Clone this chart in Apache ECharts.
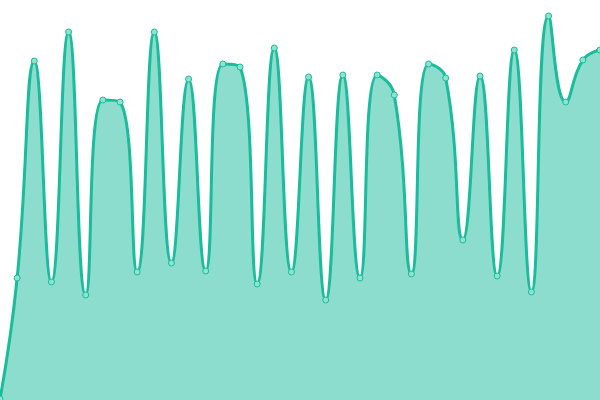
<!DOCTYPE html>
<html>
<head>
<meta charset="utf-8">
<script src="https://cdn.jsdelivr.net/npm/echarts@6/dist/echarts.min.js"></script>
<style>html,body{margin:0;padding:0;background:#fff}#c{width:600px;height:400px}</style>
</head>
<body>
<div id="c"></div>
<script>
const categories = Array.from({length: 36}, (_, i) => String(i + 1));
const values = [1, 122, 339, 118, 368, 105, 300, 298, 128, 368, 137, 321, 129, 336, 333, 116, 352, 128, 323, 100, 325, 122, 325, 305, 126, 336, 322, 160, 324, 124, 350, 108, 384, 298, 340, 350];

const chart = echarts.init(document.getElementById('c'));
chart.setOption({
  animation: false,
  grid: {left: 0, right: 0, top: 0, bottom: 0},
  xAxis: {type: 'category', data: categories, boundaryGap: false, show: false},
  yAxis: {type: 'value', min: 0, max: 400, show: false},
  series: [{
    type: 'line',
    data: values,
    smooth: true,
    symbol: 'circle',
    symbolSize: 6,
    lineStyle: {color: '#1abc9c', width: 3},
    itemStyle: {color: '#8ee3d0', borderColor: '#1abc9c', borderWidth: 1},
    areaStyle: {color: '#1abc9c', opacity: 0.5}
  }]
});
</script>
</body>
</html>
